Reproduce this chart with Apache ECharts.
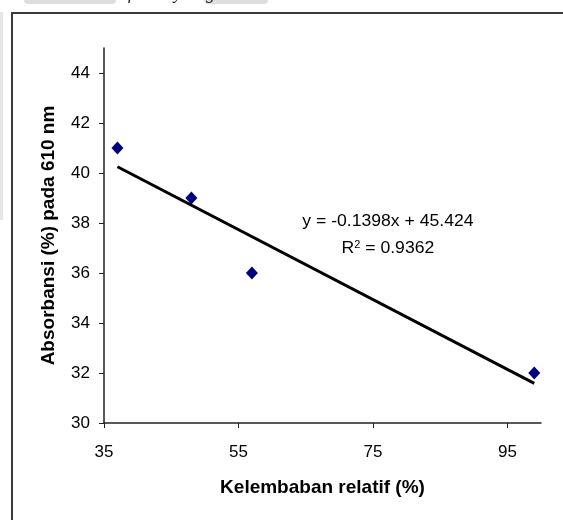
<!DOCTYPE html>
<html>
<head>
<meta charset="utf-8">
<title>Absorbansi vs Kelembaban relatif</title>
<script src="https://cdn.jsdelivr.net/npm/echarts@6/dist/echarts.min.js"></script>
<style>
  html, body { margin: 0; padding: 0; background: #fff; }
  #chart { width: 563px; height: 520px; }
</style>
</head>
<body>
<div id="chart"></div>
<script>
// Measured points: relative humidity (%) vs absorbance at 610 nm (%)
var humidity = [37, 48, 57, 99];
var absorbance = [41, 39, 36, 32];

// Linear trendline reported on the chart
var slope = -0.1398;
var intercept = 45.424;
var rSquared = 0.9362;

// Axis tick values
var xTicks = [35, 55, 75, 95];
var yTicks = [30, 32, 34, 36, 38, 40, 42, 44];

var points = humidity.map(function (x, i) { return [x, absorbance[i]]; });
var xFirst = humidity[0], xLast = humidity[humidity.length - 1];
var trend = [[xFirst, slope * xFirst + intercept], [xLast, slope * xLast + intercept]];

var FONT = '"Liberation Sans", Arial, sans-serif';

var chart = echarts.init(document.getElementById('chart'), null, { renderer: 'canvas' });

chart.setOption({
  backgroundColor: '#ffffff',
  animation: false,
  grid: { left: 104, top: 48, right: 22, height: 375 },
  xAxis: {
    type: 'value',
    min: 35,
    max: 100,
    interval: 20,
    name: 'Kelembaban relatif (%)',
    nameLocation: 'middle',
    nameGap: 55,
    nameTextStyle: { fontFamily: FONT, fontWeight: 'bold', fontSize: 19, color: '#000' },
    axisLine: { lineStyle: { color: '#222', width: 1.5 } },
    axisTick: { show: true, inside: false, length: 5, customValues: xTicks, lineStyle: { color: '#222' } },
    axisLabel: { customValues: xTicks, margin: 21, fontFamily: FONT, fontSize: 17, color: '#000' },
    splitLine: { show: false }
  },
  yAxis: {
    type: 'value',
    min: 30,
    max: 45,
    interval: 2,
    name: 'Absorbansi (%) pada 610 nm',
    nameLocation: 'middle',
    nameGap: 46,
    nameTextStyle: { fontFamily: FONT, fontWeight: 'bold', fontSize: 19, color: '#000' },
    axisLine: { lineStyle: { color: '#222', width: 1.5 } },
    axisTick: { show: true, inside: false, length: 5, customValues: yTicks, lineStyle: { color: '#222' } },
    axisLabel: { customValues: yTicks, margin: 14, fontFamily: FONT, fontSize: 17, color: '#000' },
    splitLine: { show: false }
  },
  series: [
    {
      type: 'scatter',
      data: points,
      symbol: 'diamond',
      symbolSize: [12, 13],
      itemStyle: { color: '#000080', opacity: 1 },
      z: 2
    },
    {
      type: 'line',
      data: trend,
      showSymbol: false,
      symbol: 'none',
      lineStyle: { color: '#000', width: 3 },
      z: 3
    }
  ],
  graphic: [
    // page frame around the chart
    { type: 'rect', shape: { x: 12, y: 13, width: 620, height: 620 },
      style: { fill: null, stroke: '#3a3a3a', lineWidth: 2 }, silent: true },
    // faint page margins
    { type: 'rect', shape: { x: 0, y: 12, width: 3, height: 208 },
      style: { fill: '#e6e6e6' }, silent: true },
    { type: 'rect', shape: { x: 24, y: -6, width: 92, height: 10, r: 4 },
      style: { fill: '#dedede' }, silent: true },
    { type: 'rect', shape: { x: 204, y: -6, width: 64, height: 10, r: 4 },
      style: { fill: '#dedede' }, silent: true },
    { type: 'text', x: 128, y: 3,
      style: { text: 'f', font: 'italic 18px "Liberation Serif", serif', fill: '#222', verticalAlign: 'bottom' } },
    { type: 'text', x: 174, y: 3,
      style: { text: 'y', font: 'italic 18px "Liberation Serif", serif', fill: '#222', verticalAlign: 'bottom' } },
    { type: 'text', x: 206, y: 3,
      style: { text: 'g', font: 'italic 18px "Liberation Serif", serif', fill: '#222', verticalAlign: 'bottom' } },
    // trendline equation
    { type: 'text', x: 431, y: 222, scaleX: 1.1, originX: 431, originY: 222,
      style: {
        text: 'y = ' + slope + 'x + ' + intercept,
        font: '16px ' + FONT, fill: '#000', align: 'center', verticalAlign: 'middle'
      } },
    { type: 'text', x: 431, y: 249, scaleX: 1.1, originX: 431, originY: 249,
      style: {
        text: 'R{sup|2} = ' + rSquared,
        font: '16px ' + FONT, fill: '#000', align: 'center', verticalAlign: 'middle',
        rich: { sup: { fontSize: 10, fontFamily: FONT, verticalAlign: 'top', padding: [0, 0, 8, 0] } }
      } }
  ]
});
</script>
</body>
</html>
